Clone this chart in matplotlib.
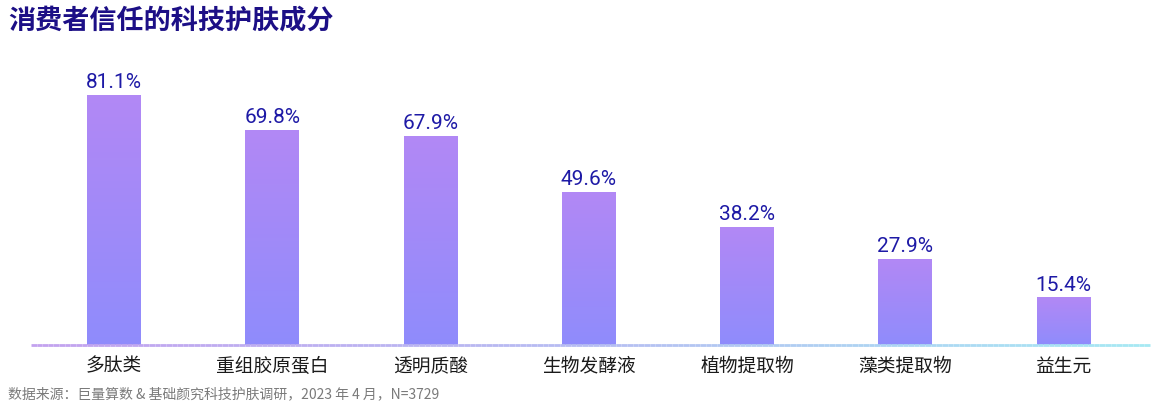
import numpy as np
import matplotlib.pyplot as plt
from matplotlib.colors import LinearSegmentedColormap
from matplotlib.collections import LineCollection

plt.rcParams['font.family'] = ['Noto Sans CJK SC', 'DejaVu Sans']

categories = ["多肽类", "重组胶原蛋白", "透明质酸", "生物发酵液", "植物提取物", "藻类提取物", "益生元"]
values = [81.1, 69.8, 67.9, 49.6, 38.2, 27.9, 15.4]
title = "消费者信任的科技护肤成分"
source = "数据来源：巨量算数 & 基础颜究科技护肤调研，2023 年 4 月，N=3729"

bar_cmap = LinearSegmentedColormap.from_list("bar", ["#8f8cfc", "#b288f5"])
base_cmap = LinearSegmentedColormap.from_list("base", ["#c3a2ef", "#b6bdf2", "#a6e9f3"])

fig = plt.figure(figsize=(11.54, 4.10), dpi=100)
ax = fig.add_axes([31 / 1154, 64 / 410, 1119 / 1154, 277 / 410])

x = np.arange(len(categories))
width = 0.341
grad = np.linspace(0, 1, 256).reshape(-1, 1)
for xi, v in zip(x, values):
    ax.imshow(grad, cmap=bar_cmap, origin="lower", aspect="auto",
              extent=[xi - width / 2, xi + width / 2, 0, v], zorder=2)
    ax.text(xi, v + 1.3, f"{v:.1f}%", ha="center", va="bottom",
            fontsize=15, color="#1e1aa6", family=["Roboto", "DejaVu Sans"])

ax.set_xlim(-0.524, 6.545)
ax.set_ylim(0, 90)

# gradient baseline
xs = np.linspace(-0.524, 6.545, 200)
segs = [[(xs[i], 0), (xs[i + 1], 0)] for i in range(len(xs) - 1)]
lc = LineCollection(segs, colors=base_cmap(np.linspace(0, 1, len(segs))), linewidths=2,
                    zorder=3, clip_on=False)
ax.add_collection(lc)

ax.set_xticks(x)
ax.set_xticklabels(categories, fontsize=13.5, color="#1a1a1a")
ax.tick_params(axis="x", length=0, pad=7)
ax.set_yticks([])
for s in ax.spines.values():
    s.set_visible(False)

fig.text(8 / 1154, 1 - 20 / 410, title, fontsize=19.5, fontweight="bold",
         color="#1c0f86", va="center", ha="left")
fig.text(8 / 1154, 1 - 394 / 410, source, fontsize=10, color="#7a7a7a",
         va="center", ha="left")

fig.savefig("out.png", dpi=100)
